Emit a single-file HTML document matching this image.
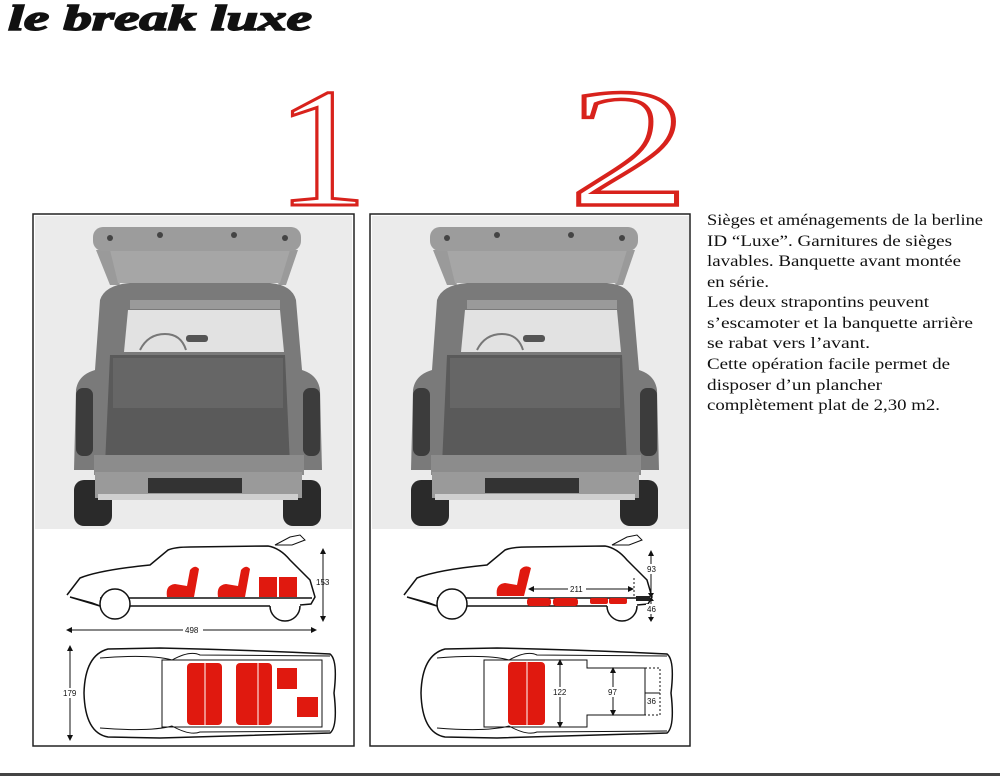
<!DOCTYPE html>
<html><head><meta charset="utf-8"><style>
html,body{margin:0;padding:0;background:#fff;}
svg{display:block}
</style></head><body>
<svg width="1000" height="776" viewBox="0 0 1000 776" xmlns="http://www.w3.org/2000/svg">
<defs>
<g id="photo">
  <rect x="35" y="216" width="317" height="313" fill="#ebebeb"/>
  <rect x="74" y="480" width="38" height="46" rx="10" fill="#2a2a2a"/>
  <rect x="283" y="480" width="38" height="46" rx="10" fill="#2a2a2a"/>
  <path d="M76 390 Q78 375 95 370 L100 300 Q105 285 130 283 L270 283 Q292 285 296 300 L302 370 Q318 375 320 390 L322 470 L74 470 Z" fill="#7a7a7a"/>
  <path d="M128 310 L280 310 L284 352 L124 352 Z" fill="#e2e2e2"/>
  <rect x="130" y="300" width="150" height="9" fill="#9a9a9a"/>
  <rect x="186" y="335" width="22" height="7" rx="3" fill="#555"/>
  <path d="M140 350 Q148 334 165 334 Q181 334 186 350" fill="none" stroke="#777" stroke-width="2"/>
  <path d="M110 355 L285 355 L290 465 L105 465 Z" fill="#5a5a5a"/>
  <rect x="113" y="358" width="170" height="50" fill="#666"/>
  <rect x="76" y="388" width="17" height="68" rx="7" fill="#3c3c3c"/>
  <rect x="303" y="388" width="17" height="68" rx="7" fill="#3c3c3c"/>
  <path d="M96 250 L110 285 L120 285 L112 250 Z M298 250 L286 285 L278 285 L286 250 Z" fill="#9a9a9a"/>
  <path d="M110 250 L290 250 L280 283 L118 283 Z" fill="#a6a6a6"/>
  <rect x="93" y="227" width="208" height="24" rx="10" fill="#9c9c9c"/>
  <circle cx="110" cy="238" r="3" fill="#444"/><circle cx="160" cy="235" r="3" fill="#444"/>
  <circle cx="234" cy="235" r="3" fill="#444"/><circle cx="285" cy="238" r="3" fill="#444"/>
  <rect x="94" y="455" width="210" height="20" fill="#8c8c8c"/>
  <rect x="95" y="472" width="207" height="26" fill="#9a9a9a"/>
  <rect x="148" y="478" width="94" height="15" fill="#333"/>
  <rect x="98" y="494" width="200" height="6" fill="#cfcfcf"/>
</g>
<g id="side" fill="none" stroke="#111" stroke-width="1.5">
  <path d="M67 595 L80 578 Q100 570 150 565 L168 550 Q175 547 190 547 L268 546 Q280 548 290 560 L310 580 L315 597 L311 604 L300 605 M100 606 L92 603 L70 597 Z"/>
  <path d="M130 606 L270 606 M100 598 L312 598"/>
  <path d="M275 545 L290 537 L300 535 L305 540 L292 545 Z" stroke-width="1"/>
  <circle cx="115" cy="604" r="15" fill="#fff"/>
  <path d="M270 606 A15 15 0 0 0 300 606"/>
</g>
<g id="plan" fill="none" stroke="#111" stroke-width="1.5">
  <path d="M108 649 Q85 655 84 693 Q85 733 108 737 L160 738 Q250 735 330 733 Q338 727 334 693 Q338 660 330 654 Q250 650 160 648 Z"/>
  <path d="M100 658 Q150 654 172 660 Q190 650 200 655 L330 656 M100 728 Q150 732 172 726 Q190 736 200 732 L330 731" stroke-width="1"/>
</g>
</defs>

<text x="8" y="30" font-family="Liberation Serif, serif" font-size="36" font-weight="bold" font-style="italic" textLength="304" lengthAdjust="spacingAndGlyphs" fill="#111" stroke="#111" stroke-width="1.5">le break luxe</text>

<text x="276" y="205" font-family="Liberation Serif, serif" font-size="170" fill="none" stroke="#d8221c" stroke-width="3" textLength="92" lengthAdjust="spacingAndGlyphs">1</text>
<text x="568" y="205" font-family="Liberation Serif, serif" font-size="170" fill="none" stroke="#d8221c" stroke-width="3.5" textLength="122" lengthAdjust="spacingAndGlyphs">2</text>

<rect x="33" y="214" width="321" height="532" fill="#fff" stroke="#222" stroke-width="1.5"/>
<rect x="370" y="214" width="320" height="532" fill="#fff" stroke="#222" stroke-width="1.5"/>
<use href="#photo"/>
<use href="#photo" transform="translate(337 0)"/>

<use href="#side"/>
<g fill="#e0190f">
  <path d="M167 597 Q165 585 175 584 L187 586 L190 570 Q195 564 199 569 L194 597 Z"/>
  <path d="M218 597 Q216 585 226 584 L238 586 L241 570 Q246 564 250 569 L245 597 Z"/>
  <rect x="259" y="577" width="18" height="20"/><rect x="279" y="577" width="18" height="20"/>
</g>
<g stroke="#111" stroke-width="1" fill="#111" font-family="Liberation Sans, sans-serif" font-size="8">
  <line x1="323" y1="551" x2="323" y2="619"/><path d="M320 554 L323 548 L326 554 Z M320 616 L323 622 L326 616 Z" stroke="none"/>
  <text x="316" y="585" stroke="none">153</text>
  <line x1="68" y1="630" x2="315" y2="630"/><path d="M72 627 L66 630 L72 633 Z M311 627 L317 630 L311 633 Z" stroke="none"/>
  <rect x="183" y="625" width="20" height="10" fill="#fff" stroke="none"/>
  <text x="185" y="633" stroke="none">498</text>
</g>
<use href="#plan"/>
<rect x="162" y="660" width="160" height="67" fill="none" stroke="#111" stroke-width="1"/>
<g fill="#e0190f">
  <rect x="187" y="663" width="35" height="62" rx="4"/><rect x="236" y="663" width="36" height="62" rx="4"/>
  <rect x="277" y="668" width="20" height="21"/><rect x="297" y="697" width="21" height="20"/>
</g>
<g stroke="#fff" stroke-width="1"><line x1="205" y1="663" x2="205" y2="725"/><line x1="258" y1="663" x2="258" y2="725"/></g>
<g stroke="#111" stroke-width="1" fill="#111" font-family="Liberation Sans, sans-serif" font-size="8">
  <line x1="70" y1="648" x2="70" y2="738"/><path d="M67 651 L70 645 L73 651 Z M67 735 L70 741 L73 735 Z" stroke="none"/>
  <rect x="62" y="688" width="16" height="10" fill="#fff" stroke="none"/>
  <text x="63" y="696" stroke="none">179</text>
</g>

<use href="#side" transform="translate(337 0)"/>
<g fill="#e0190f">
  <path d="M497 596 Q495 584 505 583 L517 585 L520 570 Q525 564 531 568 L524 596 Z"/>
  <rect x="527" y="598" width="24" height="8" rx="3"/><rect x="553" y="598" width="25" height="8" rx="3"/>
  <rect x="590" y="598" width="18" height="6" rx="2"/><rect x="609" y="598" width="18" height="6" rx="2"/>
</g>
<g stroke="#111" stroke-width="1" fill="#111" font-family="Liberation Sans, sans-serif" font-size="8">
  <line x1="530" y1="589" x2="632" y2="589"/><path d="M534 586 L528 589 L534 592 Z M628 586 L634 589 L628 592 Z" stroke="none"/>
  <rect x="568" y="584" width="18" height="10" fill="#fff" stroke="none"/>
  <text x="570" y="592" stroke="none">211</text>
  <line x1="634" y1="578" x2="634" y2="598" stroke-dasharray="2 2"/>
  <line x1="651" y1="553" x2="651" y2="620"/>
  <path d="M648 556 L651 550 L654 556 Z M648 593 L651 598 L654 593 Z M648 601 L651 597 L654 601 Z M648 617 L651 622 L654 617 Z" stroke="none"/>
  <rect x="646" y="564" width="12" height="10" fill="#fff" stroke="none"/>
  <text x="647" y="572" stroke="none">93</text>
  <rect x="646" y="604" width="12" height="10" fill="#fff" stroke="none"/>
  <text x="647" y="612" stroke="none">46</text>
  <rect x="636" y="596" width="14" height="5" fill="#222" stroke="none"/>
</g>
<use href="#plan" transform="translate(337 0)"/>
<g fill="none" stroke="#111" stroke-width="1">
  <path d="M484 660 L587 660 L587 668 L645 668 L645 715 L587 715 L587 727 L484 727 Z"/>
  <path d="M645 668 L660 668 L660 715 L645 715" stroke-dasharray="2 2"/>
</g>
<g fill="#e0190f"><rect x="508" y="662" width="37" height="63" rx="4"/></g>
<line x1="527" y1="662" x2="527" y2="725" stroke="#fff"/>
<g stroke="#111" stroke-width="1" fill="#111" font-family="Liberation Sans, sans-serif" font-size="8">
  <line x1="560" y1="662" x2="560" y2="725"/><path d="M557 665 L560 659 L563 665 Z M557 722 L560 728 L563 722 Z" stroke="none"/>
  <rect x="553" y="687" width="16" height="10" fill="#fff" stroke="none"/>
  <text x="553" y="695" stroke="none">122</text>
  <line x1="613" y1="670" x2="613" y2="713"/><path d="M610 673 L613 667 L616 673 Z M610 710 L613 716 L616 710 Z" stroke="none"/>
  <rect x="608" y="687" width="12" height="10" fill="#fff" stroke="none"/>
  <text x="608" y="695" stroke="none">97</text>
  <line x1="645" y1="693" x2="660" y2="693"/>
  <text x="647" y="704" stroke="none">36</text>
</g>

<g font-family="Liberation Serif, serif" font-size="16" fill="#111">
  <text x="707" y="225" textLength="276" lengthAdjust="spacingAndGlyphs">Sièges et aménagements de la berline</text>
  <text x="707" y="246" textLength="245" lengthAdjust="spacingAndGlyphs">ID “Luxe”. Garnitures de sièges</text>
  <text x="707" y="266" textLength="254" lengthAdjust="spacingAndGlyphs">lavables. Banquette avant montée</text>
  <text x="707" y="287" textLength="62" lengthAdjust="spacingAndGlyphs">en série.</text>
  <text x="707" y="307" textLength="222" lengthAdjust="spacingAndGlyphs">Les deux strapontins peuvent</text>
  <text x="707" y="328" textLength="266" lengthAdjust="spacingAndGlyphs">s’escamoter et la banquette arrière</text>
  <text x="707" y="348" textLength="163" lengthAdjust="spacingAndGlyphs">se rabat vers l’avant.</text>
  <text x="707" y="369" textLength="243" lengthAdjust="spacingAndGlyphs">Cette opération facile permet de</text>
  <text x="707" y="390" textLength="175" lengthAdjust="spacingAndGlyphs">disposer d’un plancher</text>
  <text x="707" y="410" textLength="233" lengthAdjust="spacingAndGlyphs">complètement plat de 2,30 m2.</text>
</g>

<rect x="0" y="773" width="1000" height="3" fill="#444"/>
</svg>
</body></html>
